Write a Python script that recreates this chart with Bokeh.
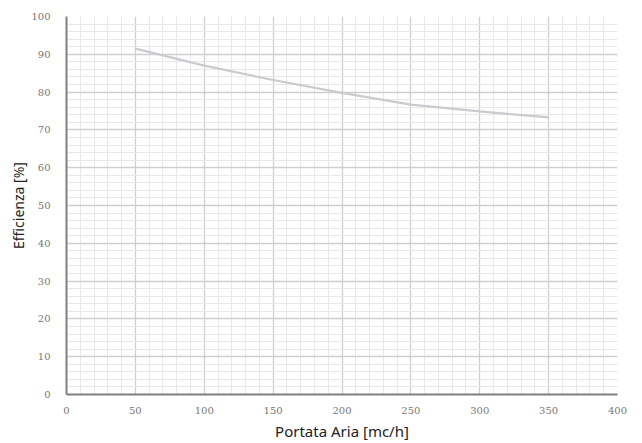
from bokeh.plotting import figure
from bokeh.models import Range1d, SingleIntervalTicker, ColumnDataSource
from bokeh.embed import file_html
from bokeh.resources import INLINE

portata = [50, 100, 150, 200, 250, 300, 350]
efficienza = [91.5, 87.0, 83.2, 79.8, 76.7, 74.9, 73.3]

x_label = "Portata Aria [mc/h]"
y_label = "Efficienza [%]"

src = ColumnDataSource(data=dict(x=portata, y=efficienza))

p = figure(frame_width=551, frame_height=378, output_backend="svg", toolbar_location=None,
           x_range=Range1d(0, 400), y_range=Range1d(0, 100),
           min_border_left=66, min_border_right=16, min_border_top=16, min_border_bottom=38)
p.outline_line_color = None
p.background_fill_color = "white"

p.line("x", "y", source=src, line_color="#c9cbd0", line_width=2.2)

p.xaxis.ticker = SingleIntervalTicker(interval=50, num_minor_ticks=5)
p.yaxis.ticker = SingleIntervalTicker(interval=10, num_minor_ticks=5)

for ax in (p.xaxis[0], p.yaxis[0]):
    ax.axis_line_color = "#808080"
    ax.axis_line_width = 2
    ax.major_tick_line_color = None
    ax.minor_tick_line_color = None
    ax.major_label_text_font = "DejaVu Serif"
    ax.major_label_text_font_size = "10px"
    ax.major_label_text_color = "#777777"
    ax.axis_label_text_font = "Noto Sans"
    ax.axis_label_text_font_style = "normal"
    ax.axis_label_text_color = "#222222"

p.xaxis.axis_label = x_label
p.yaxis.axis_label = y_label
p.xaxis.axis_label_text_font_size = "15px"
p.yaxis.axis_label_text_font_size = "14px"
p.xaxis.major_label_standoff = 6
p.yaxis.major_label_standoff = 10
p.xaxis.axis_label_standoff = 4
p.yaxis.axis_label_standoff = 0

p.xgrid.grid_line_color = "#cfcfcf"
p.ygrid.grid_line_color = "#cfcfcf"
p.xgrid.grid_line_width = 1.3
p.ygrid.grid_line_width = 1.3
p.xgrid.minor_grid_line_color = "#e8e8e8"
p.ygrid.minor_grid_line_color = "#e8e8e8"

open("out.html", "w").write(file_html(p, INLINE))
